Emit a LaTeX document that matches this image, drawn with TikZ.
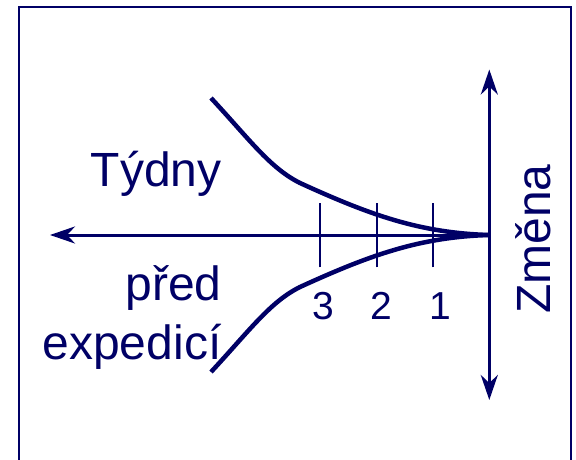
\documentclass[tikz,border=0pt]{standalone}
\usepackage{fontspec}
\setmainfont{Liberation Sans}
\usetikzlibrary{arrows.meta}

\definecolor{navy}{RGB}{0,0,102}
\tikzset{
    label/.style={text=navy, inner sep=0pt, font=\fontsize{48}{58}\selectfont},
    week/.style={text=navy, inner sep=0pt, anchor=base, font=\fontsize{39}{47}\selectfont},
    axis/.style={draw=navy, line width=3pt, -{Stealth[length=25pt, width=17pt, inset=8pt]}},
    curve/.style={draw=navy, line width=4.5pt}
}

\begin{document}
\begin{tikzpicture}[x=1pt, y=1pt]
        \useasboundingbox (0,0) rectangle (576,459);
        \clip (0,0) rectangle (576,459);
        % Frame
        \draw[navy, line width=2pt] (19,-10) rectangle (571,452.3);

        % Axes
        \coordinate (origin) at (489.3,224);
        \coordinate (up) at (489.3,389.5);
        \coordinate (down) at (489.3,59);
        \coordinate (left) at (50,224);
        \draw[axis] (origin) -- (left);
        \draw[axis] (origin) -- (up);
        \draw[axis] (origin) -- (down);

        % Weeks
        \draw[navy, line width=2pt] (320,191.7) -- (320,256.3);
        \draw[navy, line width=2pt] (376.7,191.7) -- (376.7,256.3);
        \draw[navy, line width=2pt] (433.3,191.7) -- (433.3,256.3);
        \node[week] (w3) at (323,139.7) {3};
        \node[week] (w2) at (381.7,139.7) {2};
        \node[week] (w1) at (440,139.7) {1};

        % Funnel
        \draw[curve] (211,361) .. controls (250,319) and (270,291) .. (300,276)
            .. controls (370,244) and (420,226) .. (origin);
        \draw[curve] (211,87) .. controls (250,129) and (270,157) .. (300,172)
            .. controls (370,204) and (420,222) .. (origin);

        % Labels
        \node[label, anchor=base east] (weeks) at (221.6,272.3) {Týdny};
        \node[label, anchor=base east] (before) at (221.6,159) {před};
        \node[label, anchor=base east] (shipping) at (221.6,100) {expedicí};
        \node[label, anchor=base, rotate=90] (change) at (550,220) {Změna};
    \end{tikzpicture}
\end{document}
